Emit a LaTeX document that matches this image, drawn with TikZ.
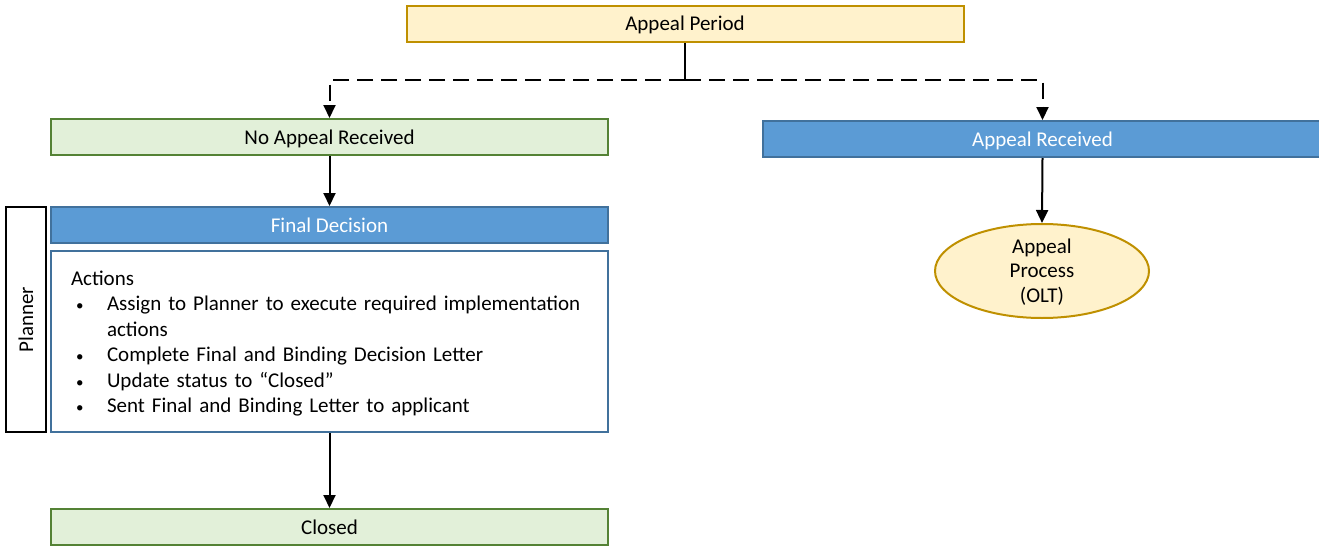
\documentclass[tikz,border=0pt]{standalone}
\usepackage{fontspec}
\setmainfont{Carlito}
\usetikzlibrary{arrows.meta,shapes.geometric}
\definecolor{goldfill}{HTML}{FFF2CC}
\definecolor{goldline}{HTML}{BF9000}
\definecolor{greenfill}{HTML}{E2F0D9}
\definecolor{greenline}{HTML}{548235}
\definecolor{bluefill}{HTML}{5B9BD5}
\definecolor{blueline}{HTML}{41719C}
\newcommand{\bitem}[1]{\par\hangindent=36pt\hangafter=1\noindent\makebox[36pt][l]{\hspace{5pt}{\fontsize{15}{15}\selectfont\textbullet}}#1}
\begin{document}
\begin{tikzpicture}[x=1pt,y=-1pt,
  font=\fontsize{21}{25.5}\selectfont,
  bar/.style={draw, line width=2pt, minimum width=557pt, minimum height=36pt, inner sep=0pt,
              text height=16pt, text depth=2pt},
  yellowbar/.style={bar, fill=goldfill, draw=goldline},
  greenbar/.style={bar, fill=greenfill, draw=greenline},
  bluebar/.style={bar, fill=bluefill, draw=blueline, text=white},
  link/.style={line width=2pt, -{Triangle[length=13pt,width=12pt]}},
  dashlink/.style={link, dash pattern=on 16pt off 8pt},
]
\useasboundingbox (0,0) rectangle (1319,551);

% top of the flow
\node[yellowbar] (period) at (685,24) {Appeal Period};
\coordinate (split) at (685,80);

% left branch
\node[greenbar] (noappeal) at (329.5,137) {No Appeal Received};
\node[bluebar] (final) at (329.5,225) {Final Decision};
\node[draw=blueline, line width=2pt, fill=white, minimum width=557pt, minimum height=181pt,
      text width=517pt, inner xsep=20pt, inner ysep=0pt, align=left] (actions) at (329.5,341.5)
  {Actions
   \bitem{Assign to Planner to execute required implementation\newline actions}
   \bitem{Complete Final and Binding Decision Letter}
   \bitem{Update status to “Closed”}
   \bitem{Sent Final and Binding Letter to applicant}\par\kern-4pt};
\node[draw=black, line width=2.5pt, fill=white, rotate=90, minimum width=225pt, minimum height=40pt,
      inner sep=0pt] (planner) at (26,319.5) {Planner};
\node[greenbar] (closed) at (329.5,527) {Closed};

% right branch
\node[bluebar, minimum width=559pt] (appeal) at (1042.5,139) {Appeal Received};
\node[ellipse, draw=goldline, fill=goldfill, line width=2pt, minimum width=214pt, minimum height=94pt,
      inner sep=0pt, align=center, font=\fontsize{21}{24.5}\selectfont,
      text depth=1pt] (olt) at (1042,271)
  {Appeal\\Process\\(OLT)};

% connectors
\draw[line width=2pt] (period.south) -- (split);
\draw[dashlink] (split) -| (noappeal.north);
\draw[dashlink] (split) -| (appeal.north);
\draw[link] (noappeal.south) -- (final.north);
\draw[link] (actions.south) -- (closed.north);
\draw[link] (appeal.south) -- (olt.north);
\end{tikzpicture}
\end{document}
